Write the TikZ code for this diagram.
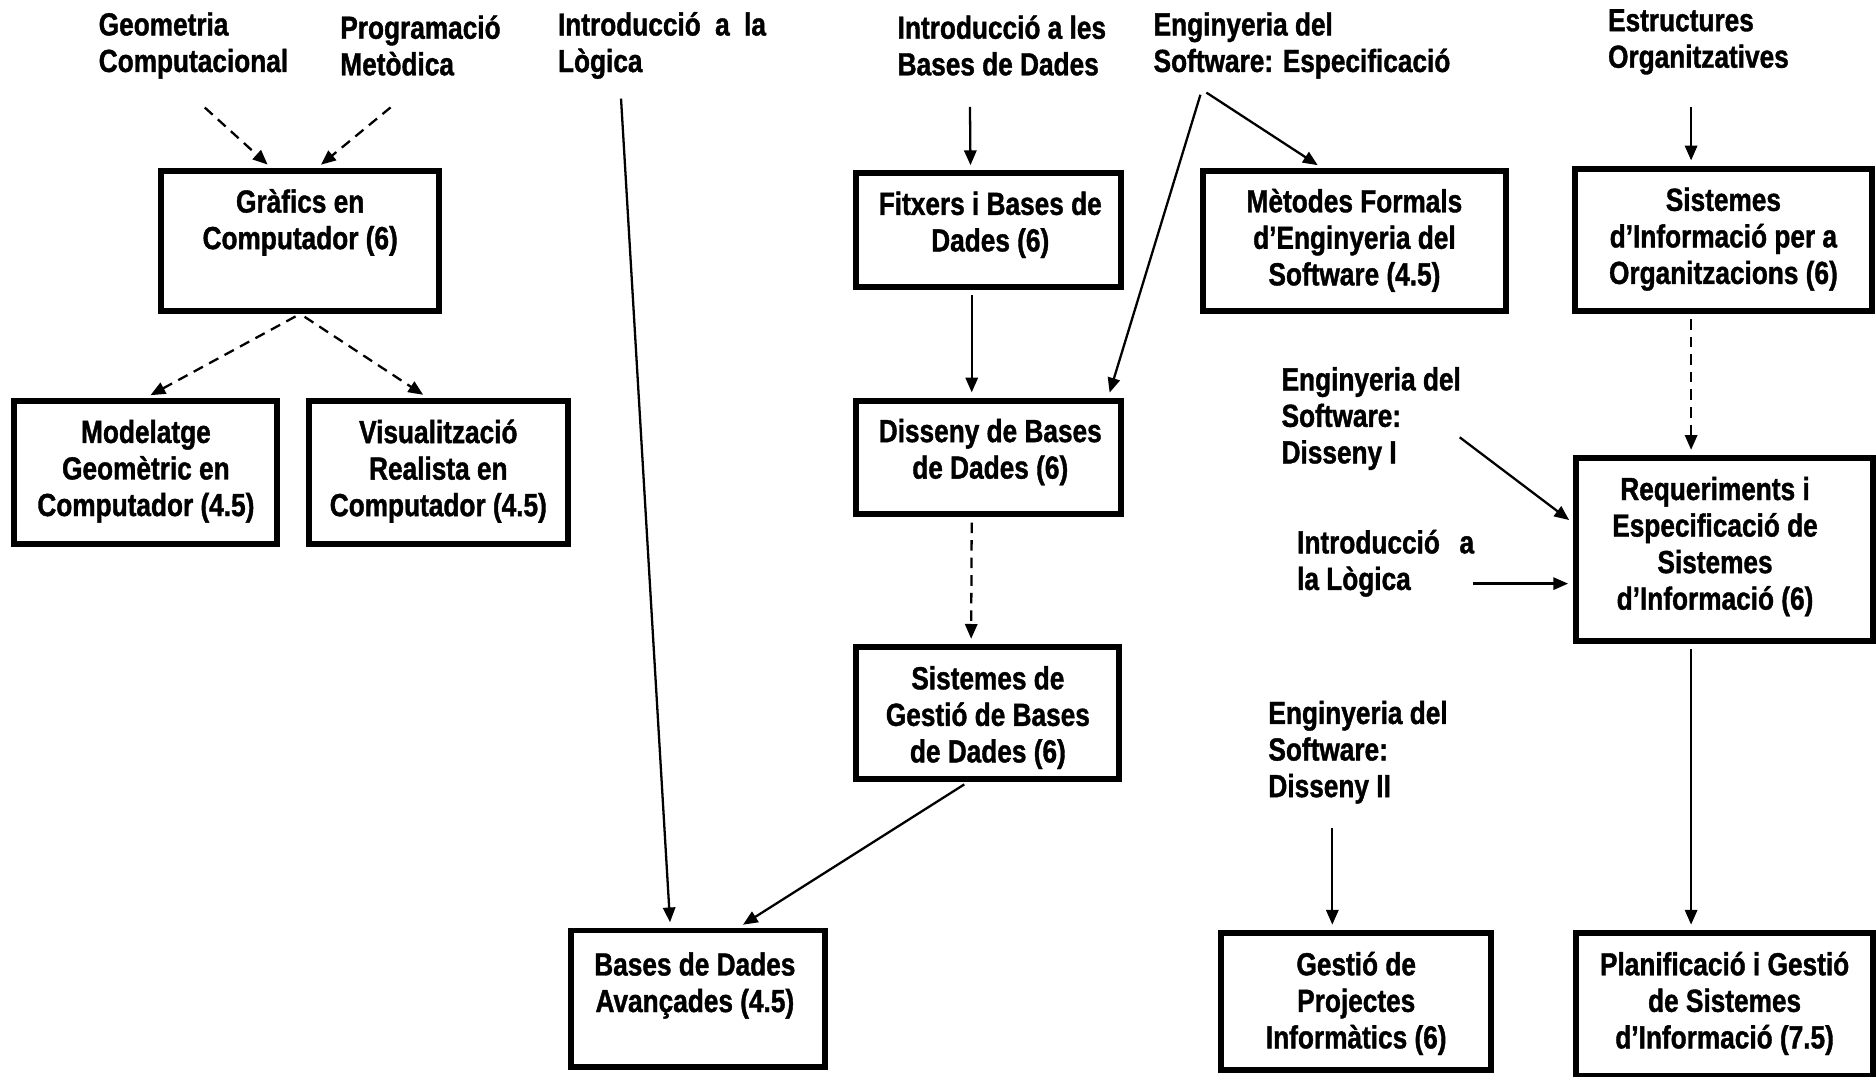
\documentclass[tikz,border=0pt]{standalone}
\usepackage{fontspec}
\setmainfont{Liberation Sans}[FakeStretch=0.82, BoldFeatures={FakeBold=1.2}]
\usetikzlibrary{arrows.meta,calc}

\tikzset{
  box/.style={draw, line width=1.7pt, inner sep=0pt},
  txt/.style={align=center, inner sep=0pt},
  lbl/.style={align=left, inner sep=0pt, anchor=west},
  con/.style={line width=0.65pt, -{Triangle[length=4.2pt,width=3.5pt]}, shorten >=1.5pt, shorten <=1.5pt},
  dcon/.style={con, dash pattern=on 3pt off 2pt}
}

\begin{document}
\begin{tikzpicture}[x=0.01196cm, y=-0.01196cm, every node/.style={font=\bfseries\fontsize{9.1}{10.4}\selectfont}]
		\useasboundingbox (0,0) rectangle (1568.6,900.5);
		% subjects outside the itinerary
		\node[lbl] (geo) at (82,38) {Geometria\\Computacional};
		\node[lbl] (prog) at (284,38) {Programació\\Metòdica};
		\node[lbl] (ilog) at (466,38) {\makebox[2.08cm][s]{Introducció a la}\\Lògica};
		\node[lbl] (ibd) at (750,38) {Introducció a les\\Bases de Dades};
		\node[lbl] (esp) at (964,38) {Enginyeria del\\Software: Especificació};
		\node[lbl] (estr) at (1344,35) {Estructures\\Organitzatives};
		\node[lbl] (dis1) at (1071,350) {Enginyeria del\\Software:\\Disseny I};
		\node[lbl] (ilog2) at (1084,471) {\makebox[1.77cm][s]{Introducció a}\\la Lògica};
		\node[lbl] (dis2) at (1060,629) {Enginyeria del\\Software:\\Disseny II};
		% subjects (boxes)
		\node[box, minimum width=2.775cm, minimum height=1.399cm] (graf) at (251,201.5) {};
		\node[txt] (grafT) at (251,186) {Gràfics en\\Computador (6)};
		\node[box, minimum width=2.631cm, minimum height=1.435cm] (model) at (122,395) {};
		\node[txt] (modelT) at (122,394) {Modelatge\\Geomètric en\\Computador (4.5)};
		\node[box, minimum width=2.595cm, minimum height=1.435cm] (visu) at (366.5,395) {};
		\node[txt] (visuT) at (366.5,394) {Visualització\\Realista en\\Computador (4.5)};
		\node[box, minimum width=2.643cm, minimum height=1.136cm] (fitx) at (826.5,192.5) {};
		\node[txt] (fitxT) at (828,188) {Fitxers i Bases de\\Dades (6)};
		\node[box, minimum width=3.026cm, minimum height=1.399cm] (metod) at (1132.5,201.5) {};
		\node[txt] (metodT) at (1132.5,201) {Mètodes Formals\\d’Enginyeria del\\Software (4.5)};
		\node[box, minimum width=2.966cm, minimum height=1.423cm] (sio) at (1441,200.5) {};
		\node[txt] (sioT) at (1441,200) {Sistemes\\d’Informació per a\\Organitzacions (6)};
		\node[box, minimum width=2.643cm, minimum height=1.136cm] (disseny) at (826.5,382.5) {};
		\node[txt] (dissenyT) at (828,378) {Disseny de Bases\\de Dades (6)};
		\node[box, minimum width=2.631cm, minimum height=1.316cm] (sgbd) at (826,596) {};
		\node[txt] (sgbdT) at (826,600) {Sistemes de\\Gestió de Bases\\de Dades (6)};
		\node[box, minimum width=2.547cm, minimum height=1.363cm] (bda) at (583.5,835) {};
		\node[txt] (bdaT) at (581,824) {Bases de Dades\\Avançades (4.5)};
		\node[box, minimum width=2.703cm, minimum height=1.375cm] (gpi) at (1134,837.5) {};
		\node[txt] (gpiT) at (1134,839) {Gestió de\\Projectes\\Informàtics (6)};
		\node[box, minimum width=2.966cm, minimum height=1.435cm] (plan) at (1442,840) {};
		\node[txt] (planT) at (1442,839) {Planificació i Gestió\\de Sistemes\\d’Informació (7.5)};
		\node[box, minimum width=2.966cm, minimum height=1.830cm] (req) at (1442,459.5) {};
		\node[txt] (reqT) at (1434,457) {Requeriments i\\Especificació de\\Sistemes\\d’Informació (6)};
		% free ends under the labels
		\coordinate (geoS) at (168,87);
		\coordinate (progS) at (330,87);
		\coordinate (ilogS) at (519,78);
		\coordinate (ibdS) at (811,85);
		\coordinate (espS) at (1005,75);
		\coordinate (estrS) at (1414,85);
		\coordinate (dis1S) at (1217,363);
		\coordinate (ilog2S) at (1227,488);
		\coordinate (dis2S) at (1114,688);
		% connectors
		\draw[dcon] (geoS) -- ($(graf.north)+(-24,0)$);
		\draw[dcon] (progS) -- ($(graf.north)+(14,0)$);
		\draw[dcon] (graf.south) -- (model.north);
		\draw[dcon] (graf.south) -- ($(visu.north)+(-9,0)$);
		\draw[con] (ilogS) -- ($(bda.north)+(-23,0)$);
		\draw[con] (ibdS) -- ($(fitx.north)+(-15,0)$);
		\draw[con] (espS) -- ($(metod.north)+(-27,0)$);
		\draw[con] (espS) -- ($(disseny.north)+(100,0)$);
		\draw[con] ($(fitx.south)+(-14,0)$) -- ($(disseny.north)+(-14,0)$);
		\draw[dcon] ($(disseny.south)+(-14,0)$) -- ($(sgbd.north)+(-14,0)$);
		\draw[con] ($(sgbd.south)+(-16,0)$) -- ($(bda.north)+(34,0)$);
		\draw[con] (estrS) -- ($(sio.north)+(-27,0)$);
		\draw[dcon] ($(sio.south)+(-27,0)$) -- ($(req.north)+(-28,0)$);
		\draw[con] (dis1S) -- ($(req.west)+(0,-22)$);
		\draw[con] (ilog2S) -- ($(req.west)+(0,28.5)$);
		\draw[con] ($(req.south)+(-28,0)$) -- ($(plan.north)+(-28,0)$);
		\draw[con] (dis2S) -- ($(gpi.north)+(-20,0)$);
\end{tikzpicture}
\end{document}
